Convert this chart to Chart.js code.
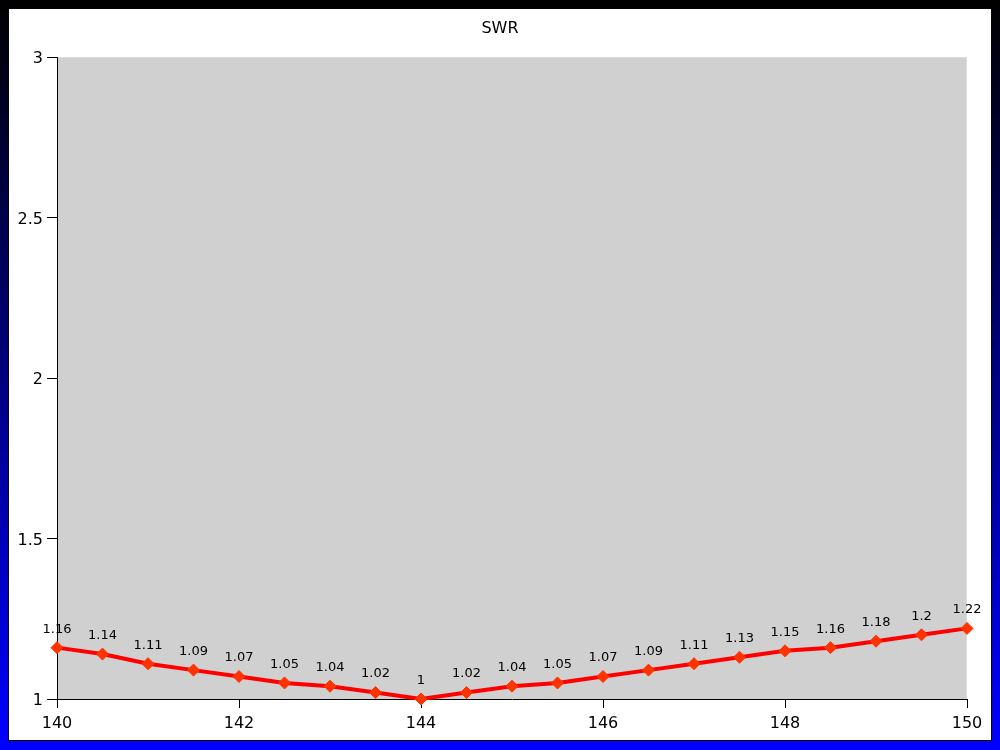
<!DOCTYPE html>
<html>
<head>
<meta charset="utf-8">
<script src="https://cdn.jsdelivr.net/npm/chart.js@4/dist/chart.umd.min.js"></script>
<style>
  html, body { margin: 0; padding: 0; }
  body {
    width: 1000px; height: 750px; overflow: hidden;
    background: linear-gradient(to bottom, #000000, #0000ff);
    position: relative;
  }
  #panel {
    position: absolute; left: 8px; top: 8px;
    width: 982px; height: 731px;
    border: 1px solid #000; background: #fff;
  }
  canvas { display: block; }
</style>
</head>
<body>
<div id="panel"><canvas id="chart" width="982" height="731"></canvas></div>
<script>
// frequency (MHz) and SWR readings
const freqs = [140, 140.5, 141, 141.5, 142, 142.5, 143, 143.5, 144, 144.5, 145,
               145.5, 146, 146.5, 147, 147.5, 148, 148.5, 149, 149.5, 150];
const swr = [1.16, 1.14, 1.11, 1.09, 1.07, 1.05, 1.04, 1.02, 1, 1.02, 1.04,
             1.05, 1.07, 1.09, 1.11, 1.13, 1.15, 1.16, 1.18, 1.2, 1.22];
const title = "SWR";

const font = "'DejaVu Sans', sans-serif";

const plotBg = {
  id: "plotBg",
  beforeDraw(chart) {
    const a = chart.chartArea;
    const c = chart.ctx;
    c.save();
    c.fillStyle = "#d0d0d0";
    c.fillRect(a.left, a.top, a.right - a.left, a.bottom - a.top);
    c.strokeStyle = "#dcdcdc";
    c.lineWidth = 1;
    c.beginPath();
    c.moveTo(a.left, a.top + 0.5);
    c.lineTo(a.right - 0.5, a.top + 0.5);
    c.lineTo(a.right - 0.5, a.bottom);
    c.stroke();
    // title centred on the whole panel
    c.font = "16px " + font;
    c.fillStyle = "#000";
    c.textAlign = "center";
    c.textBaseline = "middle";
    c.fillText(title, chart.width / 2, 20);
    c.restore();
  }
};

const valueLabels = {
  id: "valueLabels",
  afterDatasetsDraw(chart) {
    const c = chart.ctx;
    const meta = chart.getDatasetMeta(0);
    c.save();
    c.font = "13px " + font;
    c.fillStyle = "#000";
    c.textAlign = "center";
    c.textBaseline = "middle";
    meta.data.forEach((pt, i) => {
      c.fillText(String(swr[i]), pt.x, pt.y - 18.5);
    });
    c.restore();
  }
};

const ctx = document.getElementById("chart").getContext("2d");
new Chart(ctx, {
  type: "line",
  data: {
    datasets: [{
      data: freqs.map((f, i) => ({ x: f, y: swr[i] })),
      borderColor: "#ff0000",
      borderWidth: 4,
      pointStyle: "rectRot",
      pointRadius: 6,
      pointBackgroundColor: "#ff3300",
      pointBorderColor: "#ff3300",
      pointBorderWidth: 1,
      tension: 0,
      clip: false
    }]
  },
  options: {
    responsive: false,
    animation: false,
    layout: { padding: { left: 0, right: 24, top: 48, bottom: 0 } },
    plugins: {
      legend: { display: false },
      tooltip: { enabled: false },
      title: { display: false }
    },
    scales: {
      x: {
        type: "linear",
        min: 140,
        max: 150,
        afterFit: s => { s.height = 41; },
        ticks: { stepSize: 2, color: "#000", padding: 6, font: { family: font, size: 16 } },
        grid: { drawOnChartArea: false, drawTicks: true, tickLength: 9, color: "#000" },
        border: { display: true, color: "#000", width: 1 }
      },
      y: {
        min: 1,
        max: 3,
        afterFit: s => { s.width = 48; },
        ticks: {
          stepSize: 0.5, color: "#000", padding: 4, labelOffset: 2,
          font: { family: font, size: 16 },
          callback: v => String(v)
        },
        grid: { drawOnChartArea: false, drawTicks: true, tickLength: 10, color: "#000" },
        border: { display: true, color: "#000", width: 1 }
      }
    }
  },
  plugins: [plotBg, valueLabels]
});
</script>
</body>
</html>
